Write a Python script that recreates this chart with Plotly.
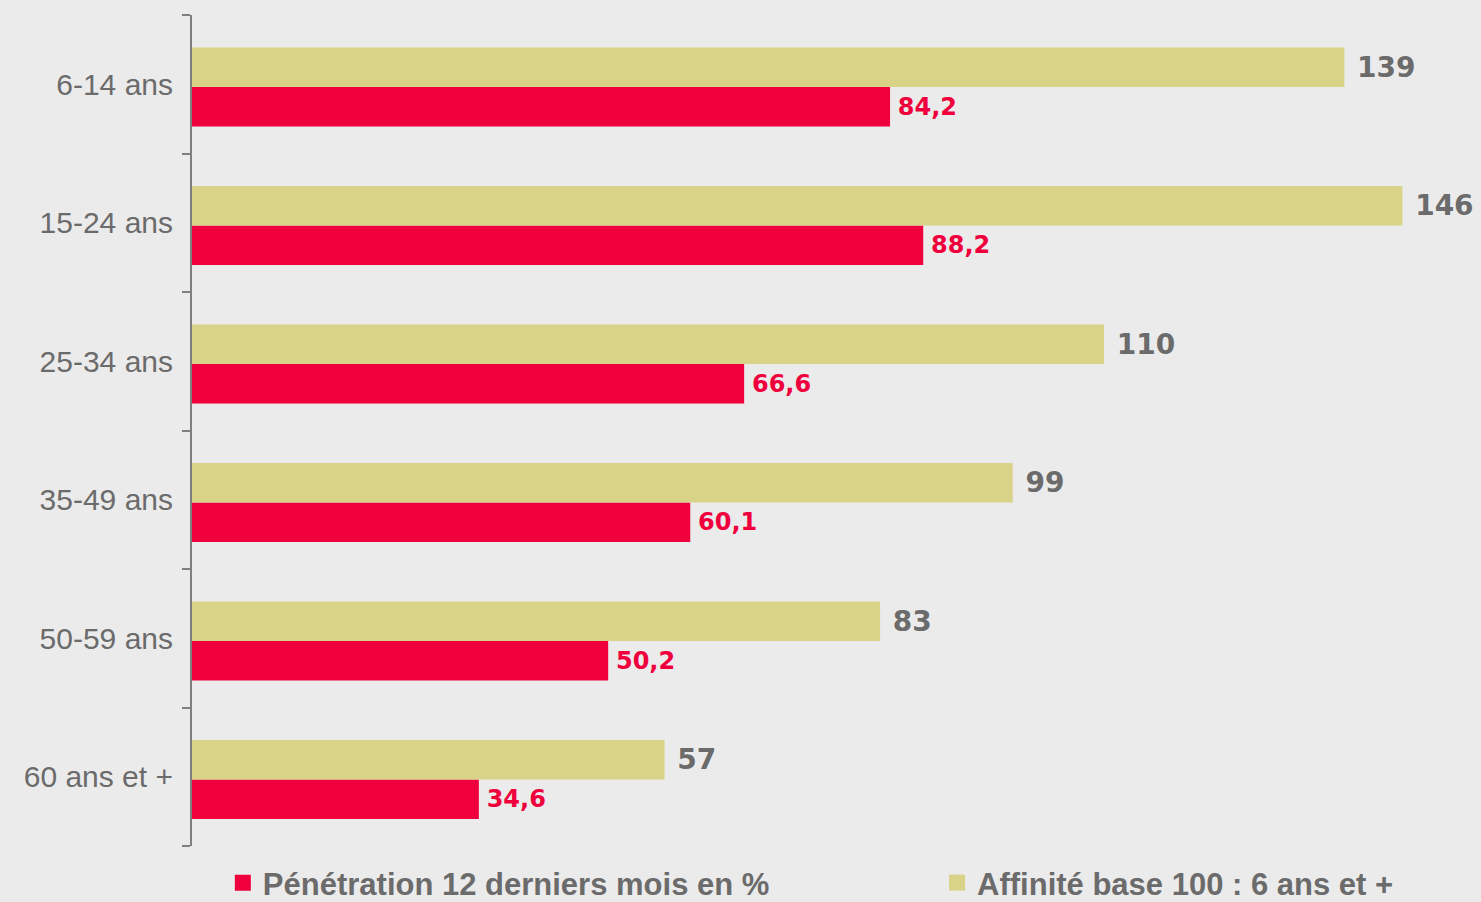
import plotly.graph_objects as go

categories = ["6-14 ans", "15-24 ans", "25-34 ans", "35-49 ans", "50-59 ans", "60 ans et +"]
penetration = [84.2, 88.2, 66.6, 60.1, 50.2, 34.6]
affinite = [139, 146, 110, 99, 83, 57]
series_names = ["Pénétration 12 derniers mois en %", "Affinité base 100 : 6 ans et +"]

RED = "#EF003D"
KHAKI = "#D9D388"
GREY = "#6B6B6B"
BG = "#EBEBEB"
FONT = "Liberation Sans"
VFONT = "DejaVu Sans"

BAR_W = 0.285

def fmt(v):
    return f"{v:g}".replace(".", ",")

fig = go.Figure()
fig.add_trace(go.Bar(
    y=categories, x=penetration, orientation="h", name=series_names[0],
    marker=dict(color=RED, line=dict(width=0)),
    width=BAR_W, offset=-0.02 - BAR_W,
    text=["\u2009" + fmt(v) for v in penetration], textposition="outside",
    textfont=dict(family=VFONT, size=24, color=RED, weight="bold"),
    cliponaxis=False, constraintext="none", showlegend=False,
))
fig.add_trace(go.Bar(
    y=categories, x=affinite, orientation="h", name=series_names[1],
    marker=dict(color=KHAKI, line=dict(width=0)),
    width=BAR_W, offset=-0.02,
    text=["\u00a0" + fmt(v) for v in affinite], textposition="outside",
    textfont=dict(family=VFONT, size=28, color=GREY, weight="bold"),
    cliponaxis=False, constraintext="none", showlegend=False,
))
# legend entries (larger square swatches than the default bar icon)
for name, color, lg in [(series_names[0], RED, "legend"), (series_names[1], KHAKI, "legend2")]:
    fig.add_trace(go.Scatter(
        x=[None], y=[None], mode="markers", name=name,
        marker=dict(symbol="square", size=19, color=color, line=dict(width=0)),
        legend=lg, showlegend=True, hoverinfo="skip",
    ))

legend_common = dict(
    orientation="h", y=-0.0445, yanchor="middle", xanchor="left",
    font=dict(family=FONT, size=31, color=GREY, weight="bold"),
    bgcolor="rgba(0,0,0,0)", itemsizing="trace",
)

fig.update_layout(
    width=1481, height=902,
    paper_bgcolor=BG, plot_bgcolor=BG,
    margin=dict(l=192, r=4, t=15, b=56, autoexpand=False),
    barmode="group",
    font=dict(family=FONT, color=GREY),
    xaxis=dict(range=[0, 155], visible=False, showgrid=False, zeroline=False),
    yaxis=dict(
        categoryorder="array", categoryarray=categories[::-1],
        showline=True, linecolor="#7F7F7F", linewidth=2,
        ticks="outside", tickson="boundaries", ticklen=8, tickwidth=2, tickcolor="#7F7F7F",
        tickfont=dict(family=FONT, size=30, color=GREY),
        ticklabelstandoff=11,
        showgrid=False, zeroline=False,
    ),
    legend=dict(x=0.024, **legend_common),
    legend2=dict(x=0.5798, **legend_common),
    showlegend=True,
)

fig.write_html(
    "out.html",
    config={"displayModeBar": False},
    post_script="document.body.style.margin='0';document.body.style.padding='0';document.body.style.overflow='hidden';",
)
